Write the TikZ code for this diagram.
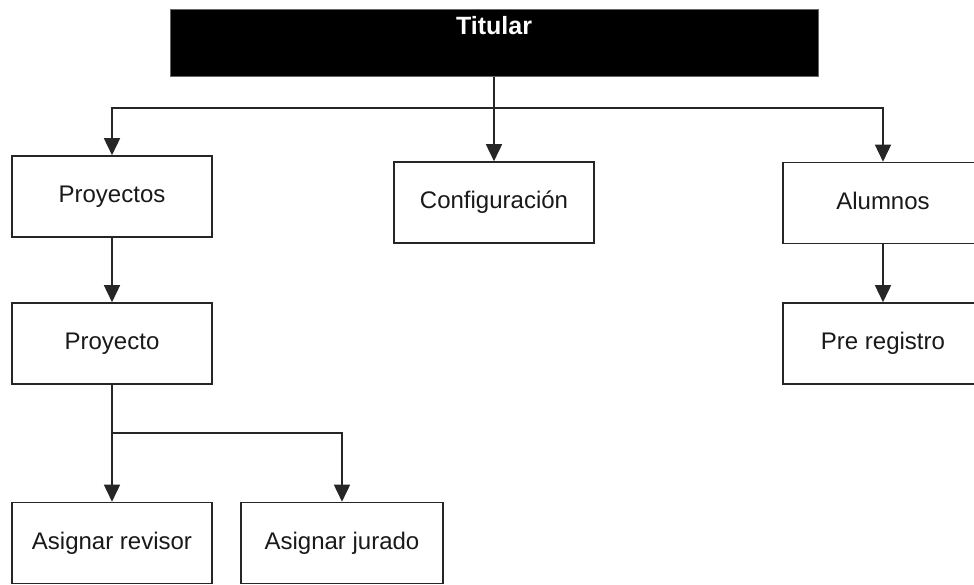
\documentclass[tikz,border=0pt]{standalone}
\usepackage{fontspec}
\setmainfont{Liberation Sans}
\usetikzlibrary{arrows.meta}
\begin{document}
\begin{tikzpicture}[x=1pt,y=-1pt,
  box/.style={draw=black!85,line width=1.6pt,fill=white,minimum width=200pt,minimum height=81pt,inner sep=0pt,
    text height=17pt,text depth=5pt,font=\fontsize{24}{28}\selectfont,text=black!90},
  arr/.style={draw=black!85,line width=1.6pt,-{Triangle[length=17pt,width=16pt]}},
  ln/.style={draw=black!85,line width=1.6pt}]
\useasboundingbox (0,0) rectangle (974,584);
\clip (0,0) rectangle (974,584);
\node[draw=black!60,line width=1pt,fill=black,text=white,minimum width=648pt,inner sep=0pt,
  text height=25pt,text depth=42pt,font=\bfseries\fontsize{25}{30}\selectfont,anchor=north] (tit) at (494,9) {Titular};
\node[box] (proys) at (112,196.5) {Proyectos};
\node[box] (conf) at (494,202.5) {Configuración};
\node[box] (alum) at (883,203) {Alumnos};
\node[box] (proy) at (112,343.5) {Proyecto};
\node[box] (pre) at (883,343.5) {Pre registro};
\node[box] (rev) at (112,543) {Asignar revisor};
\node[box,minimum width=202pt] (jur) at (342,543) {Asignar jurado};
\coordinate (bus) at (494,108);
\coordinate (br) at (112,433);
\draw[ln] (tit.south) -- (bus);
\draw[arr] (bus) -| (proys.north);
\draw[arr] (bus) -- (conf.north);
\draw[arr] (bus) -| (alum.north);
\draw[arr] (proys.south) -- (proy.north);
\draw[arr] (alum.south) -- (pre.north);
\draw[ln] (proy.south) -- (br);
\draw[arr] (br) -- (rev.north);
\draw[arr] (br) -| (jur.north);
\end{tikzpicture}
\end{document}
